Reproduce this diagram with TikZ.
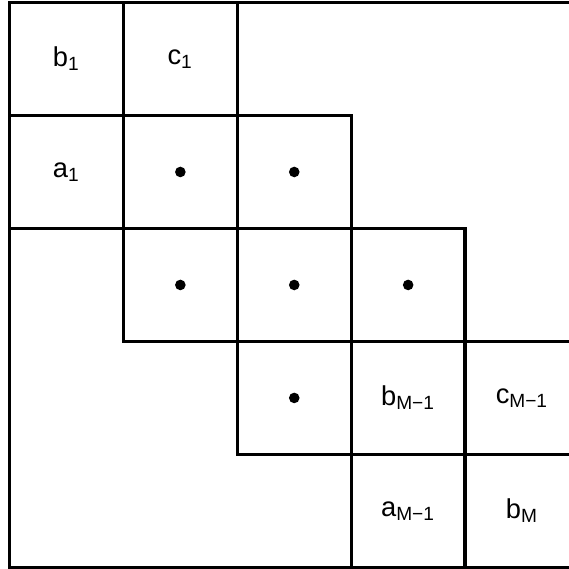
\documentclass[tikz,border=0pt]{standalone}
\usepackage{fontspec}
\setmainfont{Liberation Sans}
\usetikzlibrary{positioning}

\begin{document}
\begin{tikzpicture}[
  x=1.613cm, y=-1.6cm,
  cell/.style={draw=black, line width=1.3pt, minimum width=1.613cm,
               minimum height=1.6cm, inner sep=0pt,
               font=\fontsize{11}{13}\selectfont},
  dot/.style={circle, fill=black, inner sep=0pt, minimum size=0.15cm},
  frame/.style={draw=black, line width=1.3pt},
]
  \clip (-0.0834,-0.022) rectangle (4.911,5.014);
  % band of the matrix
  \node[cell] (r0c0) at (0.5,0.5) {b\textsubscript{1}};
  \node[cell] (r0c1) at (1.5,0.5) {c\textsubscript{1}};
  \node[cell] (r1c0) at (0.5,1.5) {a\textsubscript{1}};
  \node[cell] (r1c1) at (1.5,1.5) {};
  \node[cell] (r1c2) at (2.5,1.5) {};
  \node[cell] (r2c1) at (1.5,2.5) {};
  \node[cell] (r2c2) at (2.5,2.5) {};
  \node[cell] (r2c3) at (3.5,2.5) {};
  \node[cell] (r3c2) at (2.5,3.5) {};
  \node[cell] (r3c3) at (3.5,3.5) {b\textsubscript{M−1}};
  \node[cell] (r3c4) at (4.5,3.5) {c\textsubscript{M−1}};
  \node[cell] (r4c3) at (3.5,4.5) {a\textsubscript{M−1}};
  \node[cell] (r4c4) at (4.5,4.5) {b\textsubscript{M}};
  % dots
  \foreach \c in {r1c1,r1c2,r2c1,r2c2,r2c3,r3c2}
    \node[dot] (d-\c) at (\c) {};
  % outer frame
  \draw[frame] (0,0) rectangle (5,5);
\end{tikzpicture}
\end{document}
